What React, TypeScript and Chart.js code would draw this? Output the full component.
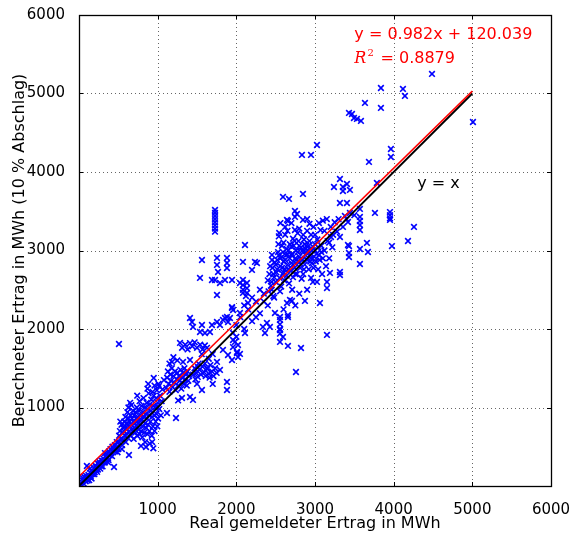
import React, { useEffect, useRef } from 'react';
import { Chart, registerables } from 'chart.js';
Chart.register(...registerables);

type P = [number, number];

const axisTicks = [0, 1000, 2000, 3000, 4000, 5000, 6000];
const xTitle = 'Real gemeldeter Ertrag in MWh';
const yTitle = 'Berechneter Ertrag in MWh (10 % Abschlag)';
const fitText = 'y = 0.982x + 120.039';
const r2Value = '0.8879';
const identityText = 'y = x';

// regression line and identity line end points
const fitLine: P[] = [[0, 120.039], [5000, 5030.039]];
const identityLine: P[] = [[0, 0], [5000, 5000]];

const lowBand: P[] = [
  [20, 40], [35, 15], [50, 70], [60, 30], [75, 110], [85, 60], [100, 255], [105, 90], [120, 140], [130, 75],
  [145, 170], [150, 120], [165, 200], [175, 150], [190, 230], [200, 175], [210, 260], [220, 205], [235, 290], [245, 240],
  [255, 310], [265, 260], [280, 330], [290, 285], [300, 250], [310, 350], [320, 300], [335, 380], [345, 330], [355, 410],
  [365, 360], [380, 440], [390, 390], [400, 470], [410, 420], [425, 500], [440, 455], [445, 242], [455, 520], [470, 480],
  [480, 560], [490, 430], [230, 180], [160, 95], [270, 220], [330, 420], [370, 300], [140, 220], [60, 120], [15, 10],
  [50, 100], [90, 130], [110, 70], [140, 110], [170, 180], [195, 150], [215, 240], [240, 210], [260, 280], [285, 250],
  [305, 320], [330, 300], [350, 370], [375, 330], [395, 420], [420, 380], [440, 480], [460, 440], [480, 500], [500, 470],
];

const midCluster: P[] = [
  [505, 560], [510, 640], [520, 700], [530, 600], [540, 780], [548, 520], [555, 680], [560, 740], [525, 820], [545, 470], [560, 590],
  [570, 700], [575, 820], [580, 640], [585, 760], [590, 880], [595, 560], [600, 720], [605, 800], [610, 660], [615, 940], [620, 770], [625, 610], [630, 860], [635, 395], [628, 1000],
  [640, 700], [645, 820], [650, 760], [655, 900], [660, 640], [665, 1030], [670, 780], [675, 860], [680, 700], [685, 960], [690, 820], [695, 600], [700, 740], [700, 900], [650, 1060],
  [710, 800], [715, 680], [720, 940], [725, 860], [730, 760], [735, 1000], [740, 640], [745, 880], [750, 800], [755, 720], [760, 960], [765, 840], [770, 1080], [770, 660], [740, 1150],
  [780, 780], [785, 900], [788, 510], [790, 700], [795, 1020], [800, 840], [805, 620], [810, 940], [815, 760], [820, 1120], [825, 880], [830, 680], [835, 1000], [840, 800], [840, 560],
  [850, 920], [852, 497], [855, 740], [860, 1060], [865, 860], [870, 660], [875, 980], [880, 780], [885, 1180], [890, 900], [895, 700], [900, 1040], [900, 540], [880, 1300], [870, 1240],
  [910, 820], [915, 960], [920, 1100], [925, 640], [930, 880], [935, 1200], [940, 760], [945, 1020], [950, 1376], [955, 900], [960, 700], [960, 1280], [930, 560], [945, 480], [950, 1150],
  [970, 1000], [975, 820], [980, 1120], [985, 920], [990, 1220], [995, 760], [1000, 1060], [1005, 860], [1010, 1300], [1020, 980], [1030, 1150], [1040, 900], [1050, 1080], [1017, 1274], [1000, 1006],
  [1118, 930], [1233, 866], [1309, 1121], [1060, 1230], [1080, 1350], [508, 1809],
];

const upperMidCluster: P[] = [
  [1110, 1250], [1120, 1380], [1130, 1460], [1140, 1300], [1150, 1200], [1160, 1420], [1170, 1340], [1180, 1500], [1190, 1260], [1200, 1400],
  [1210, 1320], [1220, 1460], [1230, 1220], [1240, 1360], [1250, 1440], [1260, 1280], [1270, 1400], [1280, 1340], [1290, 1480], [1300, 1240],
  [1310, 1380], [1320, 1440], [1330, 1300], [1340, 1500], [1350, 1360], [1360, 1420], [1370, 1280], [1380, 1460], [1390, 1340], [1400, 1400],
  [1182, 1580], [1150, 1560], [1200, 1640], [1250, 1600], [1322, 1580],
  [1284, 1822], [1310, 1760], [1350, 1800], [1380, 1740], [1411, 1820], [1440, 1780], [1470, 1830], [1500, 1760], [1540, 1800], [1570, 1740],
  [1600, 1790], [1627, 1760], [1411, 2140], [1436, 2089], [1449, 2026], [1563, 2051], [1690, 2051], [1538, 1962], [1601, 1949], [1665, 1962],
  [1754, 2089], [1792, 2051], [1830, 2115], [1894, 2089], [1919, 2140], [1945, 2268], [2046, 2204], [2148, 2331], [1411, 1605], [1512, 1516],
  [1627, 1503], [1754, 1580], [1792, 1478], [1894, 1669], [1945, 1605], [2008, 1694], [2021, 1796], [1983, 1835], [1830, 1733], [1700, 1680],
  [1650, 1620], [1560, 1680],
  [1450, 1420], [1470, 1500], [1490, 1440], [1510, 1390], [1530, 1480], [1550, 1420], [1570, 1520], [1590, 1450], [1610, 1400], [1630, 1490],
  [1650, 1430], [1670, 1540], [1690, 1460], [1710, 1400], [1730, 1500], [1750, 1440], [1600, 1560], [1520, 1560], [1660, 1380], [1480, 1360],
  [1881, 1325], [1881, 1223], [1563, 1223], [1411, 1134], [1449, 1096], [1260, 1090], [1500, 1300], [1700, 1300],
];

const columnNear1700: P[] = [
  [1729, 3240], [1729, 3280], [1729, 3320], [1729, 3360], [1729, 3400], [1729, 3440], [1729, 3480], [1729, 3516],
];

const upperBand: P[] = [
  [1563, 2879], [1754, 2905], [1881, 2905], [1881, 2841], [1881, 2777], [1754, 2816], [1767, 2726], [1690, 2624], [1729, 2624], [1792, 2586],
  [1856, 2624], [1945, 2624], [1754, 2433], [2110, 3070], [2084, 2854], [2237, 2854], [2262, 2841], [2199, 2752], [1538, 2650], [2046, 2586],
  [2084, 2624], [2084, 2560], [2084, 2500], [2084, 2459], [1945, 2280], [1958, 2242], [1856, 2140], [1881, 2153], [2135, 2586], [2135, 2520],
  [2135, 2459], [2122, 2420],
  [2000, 2050], [2050, 2150], [2100, 2000], [2150, 2250], [2200, 2100], [2250, 2350], [2300, 2200], [2350, 2450], [2400, 2300], [2200, 2400],
  [2300, 2500], [2000, 1900], [2100, 2300], [2250, 2150], [2350, 2350], [2450, 2500], [2480, 2400],
  [2110, 1949], [2008, 1707], [2046, 1682], [2021, 1643], [1958, 1950], [1958, 1860], [1958, 1770],
];

const mainCluster: P[] = [
  [2400, 2620], [2420, 2700], [2440, 2550], [2453, 2943], [2453, 2879], [2460, 2780], [2480, 2660], [2490, 2850], [2410, 2480], [2470, 2420],
  [2500, 2600], [2510, 2720], [2520, 2880], [2530, 2980], [2535, 3080], [2540, 3180], [2545, 3223], [2550, 2650], [2560, 2800], [2570, 2540],
  [2580, 2920], [2590, 2700], [2555, 2480], [2580, 3060], [2593, 2980],
  [2600, 2860], [2610, 2620], [2620, 2760], [2630, 2940], [2640, 2680], [2644, 3389], [2650, 2820], [2656, 3376], [2660, 3000], [2670, 2580],
  [2680, 2900], [2690, 2740], [2600, 3100], [2620, 3200], [2669, 3657], [2593, 3682],
  [2700, 2840], [2710, 2960], [2720, 2660], [2730, 3060], [2740, 2780], [2745, 3504], [2745, 3427], [2745, 3261], [2750, 2900], [2760, 3000],
  [2770, 2700], [2771, 3465], [2780, 2860], [2790, 3120], [2710, 2500], [2720, 3150],
  [2800, 2920], [2810, 2780], [2820, 3040], [2830, 2640], [2840, 2880], [2847, 3389], [2850, 2980], [2860, 3140], [2870, 2820], [2880, 2940],
  [2890, 3060], [2847, 3720], [2834, 4217], [2800, 3280], [2850, 3200],
  [2900, 2880], [2910, 3000], [2920, 2760], [2930, 3120], [2940, 2940], [2949, 4217], [2950, 3200], [2960, 2840], [2970, 3050], [2980, 3300],
  [2990, 2920], [2974, 2599], [2900, 3400], [2930, 3340],
  [3000, 3000], [3010, 2860], [3025, 2599], [3025, 4344], [3030, 3140], [3040, 2760], [3050, 2940], [3063, 2331], [3070, 3260], [3080, 3060],
  [3090, 2700], [3100, 2900], [3100, 3380],
  [3120, 3000], [3140, 2800], [3152, 2599], [3152, 2522], [3152, 1924], [3160, 3120], [3180, 2900], [3190, 2714], [3203, 3172], [3220, 3040],
  [3250, 3360], [3280, 3240], [3317, 3172], [3317, 2726], [3317, 2688], [3300, 3400], [3317, 3605], [3241, 3809], [3317, 3911], [3355, 3809],
  [3406, 3847], [3355, 3758], [3444, 3771], [3406, 3605], [3419, 3070], [3432, 2917], [3432, 3057], [3432, 2968], [3419, 3363], [3444, 3478],
  [3355, 3300], [3380, 3440], [3400, 3400],
  [2620, 2880], [2640, 3020], [2660, 2760], [2680, 3080], [2700, 2940], [2720, 2820], [2740, 3120], [2760, 2880], [2780, 2980], [2800, 3060],
  [2820, 2900], [2840, 3000], [2860, 2760], [2880, 3020], [2900, 2960], [2920, 3060], [2940, 2860], [2960, 3000], [2980, 2780], [3000, 3080],
  [3020, 2960], [3040, 3040], [3060, 2880], [3080, 2980], [2560, 2900], [2580, 2780], [2600, 2720], [2520, 2760], [2540, 2940], [2500, 2820],
  [2470, 2700], [2450, 2600], [2430, 2800], [2650, 2950], [2700, 3050], [2750, 2700], [2800, 2850], [2850, 2700], [2870, 3080], [2950, 2900],
  [2620, 3300], [2560, 3350], [2700, 3350], [2650, 3250], [2780, 3220], [2900, 3250], [3000, 3200], [3050, 3350], [3120, 3250], [3150, 3400],
  [3180, 3100], [3230, 3200],
];

const lowerScatter: P[] = [
  [2758, 1452], [2656, 1784], [2822, 1758], [2555, 2115], [2555, 2060], [2555, 2000], [2555, 1940], [2593, 1898], [2656, 2178], [2656, 2153],
  [2872, 2357], [2644, 2331], [2707, 2357], [2682, 2370], [2491, 2204], [2555, 2153], [2389, 2077], [2338, 2026], [2427, 2026], [2364, 1949],
  [2555, 1987], [2555, 1835], [2600, 2250], [2750, 2300], [2800, 2450], [2900, 2500], [2950, 2650],
];

const topRightOutliers: P[] = [
  [3571, 3529], [3571, 3427], [3571, 3376], [3571, 3325], [3571, 3261], [3762, 3478], [3953, 3490], [3953, 3450], [3953, 3410], [3953, 3389],
  [4258, 3300], [4182, 3121], [3978, 3057], [3660, 3096], [3673, 2981], [3571, 3019], [3686, 4128], [3965, 4293], [3965, 4191], [3787, 3860],
  [3838, 5070], [4118, 5058], [4143, 4969], [3838, 4816], [3635, 4880], [3432, 4752], [3470, 4739], [3495, 4688], [3533, 4676], [3584, 4650],
  [5008, 4637], [4487, 5249], [3571, 2828], [3200, 3300], [3500, 3450],
];

const allPoints: P[] = [
  ...lowBand, ...midCluster, ...upperMidCluster, ...columnNear1700, ...upperBand,
  ...mainCluster, ...lowerScatter, ...topRightOutliers,
];

const FONT = '"DejaVu Sans", sans-serif';

const decorPlugin = {
  id: 'decor',
  beforeDatasetsDraw(chart: any) {
    const { ctx, chartArea, scales } = chart;
    const { left, right, top, bottom } = chartArea;
    ctx.save();
    ctx.strokeStyle = 'rgba(0,0,0,0.6)';
    ctx.lineWidth = 1;
    ctx.setLineDash([1, 3]);
    axisTicks.forEach((v) => {
      if (v === 0 || v === 6000) return;
      const px = Math.round(scales.x.getPixelForValue(v)) + 0.5;
      ctx.beginPath(); ctx.moveTo(px, top); ctx.lineTo(px, bottom); ctx.stroke();
      const py = Math.round(scales.y.getPixelForValue(v)) + 0.5;
      ctx.beginPath(); ctx.moveTo(left, py); ctx.lineTo(right, py); ctx.stroke();
    });
    ctx.restore();
  },
  afterDatasetsDraw(chart: any) {
    const { ctx, chartArea, scales } = chart;
    const { left, right, top, bottom } = chartArea;
    ctx.save();
    ctx.setLineDash([]);
    ctx.strokeStyle = '#000';
    ctx.lineWidth = 1;
    axisTicks.forEach((v) => {
      const px = Math.round(scales.x.getPixelForValue(v)) + 0.5;
      ctx.beginPath(); ctx.moveTo(px, bottom); ctx.lineTo(px, bottom - 4); ctx.stroke();
      ctx.beginPath(); ctx.moveTo(px, top); ctx.lineTo(px, top + 4); ctx.stroke();
      const py = Math.round(scales.y.getPixelForValue(v)) + 0.5;
      ctx.beginPath(); ctx.moveTo(left, py); ctx.lineTo(left + 4, py); ctx.stroke();
      ctx.beginPath(); ctx.moveTo(right, py); ctx.lineTo(right - 4, py); ctx.stroke();
    });
    ctx.lineWidth = 1.3;
    ctx.strokeRect(Math.round(left) + 0.5, Math.round(top) + 0.5, Math.round(right - left), Math.round(bottom - top));

    const tx = scales.x.getPixelForValue(3500);
    ctx.fillStyle = '#ff0000';
    ctx.textBaseline = 'alphabetic';
    ctx.textAlign = 'left';
    ctx.font = `16px ${FONT}`;
    ctx.fillText(fitText, tx, scales.y.getPixelForValue(5700));
    const by = scales.y.getPixelForValue(5390);
    ctx.font = 'italic 16px "DejaVu Serif", serif';
    ctx.fillText('R', tx, by);
    const rw = ctx.measureText('R').width;
    ctx.font = '10px "DejaVu Serif", serif';
    ctx.fillText('2', tx + rw + 1, by - 7);
    ctx.font = `16px ${FONT}`;
    ctx.fillText(' = ' + r2Value, tx + rw + 9, by);

    ctx.fillStyle = '#000';
    ctx.fillText(identityText, scales.x.getPixelForValue(4300), scales.y.getPixelForValue(3800));
    ctx.restore();
  },
};

export default function App() {
  const ref = useRef<HTMLCanvasElement>(null);
  useEffect(() => {
    if (!ref.current) return;
    const chart = new Chart(ref.current, {
      type: 'scatter',
      data: {
        datasets: [
          {
            label: 'fit',
            data: fitLine.map(([x, y]) => ({ x, y })),
            showLine: true,
            borderColor: '#ff0000',
            borderWidth: 1.5,
            pointRadius: 0,
            fill: false,
            order: 0,
          },
          {
            label: 'identity',
            data: identityLine.map(([x, y]) => ({ x, y })),
            showLine: true,
            borderColor: '#000000',
            borderWidth: 1.8,
            pointRadius: 0,
            fill: false,
            order: 1,
          },
          {
            label: 'data',
            data: allPoints.map(([x, y]) => ({ x, y })),
            pointStyle: 'crossRot',
            pointRadius: 4,
            pointBorderWidth: 1.6,
            borderColor: '#0000ff',
            backgroundColor: '#0000ff',
            showLine: false,
            order: 2,
          },
        ],
      },
      options: {
        responsive: false,
        animation: false,
        layout: { padding: { top: 15, right: 22, left: 0, bottom: 0 } },
        plugins: { legend: { display: false }, tooltip: { enabled: false } },
        scales: {
          x: {
            type: 'linear',
            min: 0,
            max: 6000,
            afterFit: (s: any) => { s.height = 52; s.paddingRight = 0; s.paddingLeft = 0; },
            afterBuildTicks: (s: any) => { s.ticks = axisTicks.map((v) => ({ value: v })); },
            grid: { display: false },
            border: { display: false },
            ticks: {
              padding: 7,
              color: '#000',
              font: { family: FONT, size: 15 },
              callback: (v: any) => (v === 0 ? '' : String(v)),
              maxRotation: 0,
            },
            title: {
              display: true,
              text: xTitle,
              color: '#000',
              font: { family: FONT, size: 16 },
              padding: { top: 0, bottom: 5 },
            },
          },
          y: {
            type: 'linear',
            min: 0,
            max: 6000,
            afterFit: (s: any) => { s.width = 79; s.paddingTop = 0; s.paddingBottom = 0; },
            afterBuildTicks: (s: any) => { s.ticks = axisTicks.map((v) => ({ value: v })); },
            grid: { display: false },
            border: { display: false },
            ticks: {
              padding: 6,
              color: '#000',
              font: { family: FONT, size: 15 },
              callback: (v: any) => (v === 0 ? '' : String(v)),
            },
            title: {
              display: true,
              text: yTitle,
              color: '#000',
              font: { family: FONT, size: 16 },
              padding: { top: 10, bottom: 0 },
            },
          },
        },
      },
      plugins: [decorPlugin],
    });
    return () => chart.destroy();
  }, []);
  return (
    <div style={{ position: 'absolute', left: 0, top: 0, width: 573, height: 538, background: '#fff' }}>
      <canvas ref={ref} width={573} height={538} style={{ display: 'block' }} />
    </div>
  );
}
